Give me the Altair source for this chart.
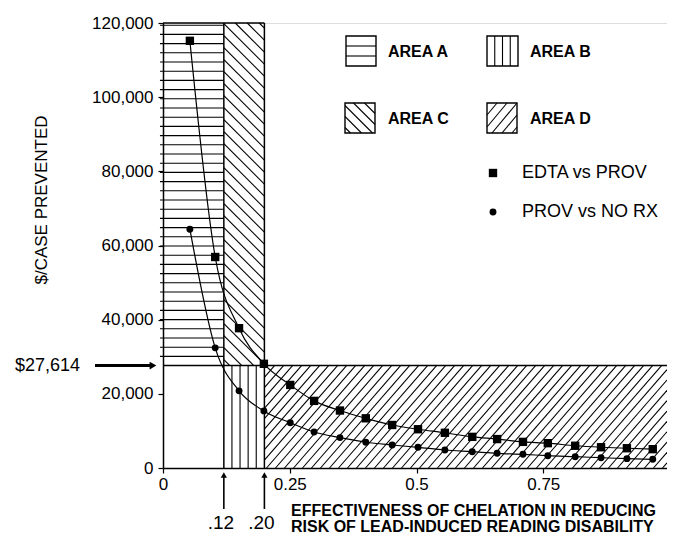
import altair as alt
import pandas as pd

# ---------------- values ----------------
x_vals = [0.053, 0.103, 0.150, 0.199, 0.251, 0.298, 0.349, 0.400, 0.452, 0.503,
          0.556, 0.610, 0.659, 0.710, 0.759, 0.813, 0.864, 0.915, 0.966]
edta_y = [115200, 56900, 37700, 28100, 22400, 18100, 15500, 13400, 11600, 10450,
          9500, 8400, 7800, 7050, 6700, 6000, 5600, 5330, 5080]
prov_y = [64400, 32400, 20800, 15400, 12200, 9700, 8200, 6950, 6200, 5580,
          4850, 4400, 3960, 3690, 3320, 3050, 2780, 2520, 2350]
series_names = ["EDTA vs PROV", "PROV vs NO RX"]
area_names = ["AREA A", "AREA B", "AREA C", "AREA D"]
threshold = 27614
x_cuts = [0.12, 0.20]
y_ticks = [0, 20000, 40000, 60000, 80000, 100000, 120000]
x_ticks = [0, 0.25, 0.5, 0.75]

# ---------------- layout / style ----------------
FONT = "Liberation Sans"
W, H = 504, 445
X_MAX = W / 507.0
Y_MAX = 120000
PX = W / X_MAX
PY = H / Y_MAX

xs = alt.Scale(domain=[0, X_MAX], nice=False, zero=False)
ys = alt.Scale(domain=[0, Y_MAX], nice=False, zero=False)


def hatch(x0, x1, y0, y1, kind, step, m=1.0):
    X0, X1, Y0, Y1 = x0 * PX, x1 * PX, y0 * PY, y1 * PY
    out = []
    if kind == "h":
        Y = Y0 + step
        while Y < Y1 - 1:
            out.append((X0, Y, X1, Y))
            Y += step
    elif kind == "v":
        X = X0 + step
        while X < X1 - 1:
            out.append((X, Y0, X, Y1))
            X += step
    elif kind == "/":
        b = Y0 - m * X1 + m * step * 0.5
        while b < Y1 - m * X0:
            xa = max(X0, (Y0 - b) / m)
            xb = min(X1, (Y1 - b) / m)
            if xb - xa > 0.3:
                out.append((xa, m * xa + b, xb, m * xb + b))
            b += m * step
    else:
        b = Y0 + m * X0 + m * step * 0.5
        while b < Y1 + m * X1:
            xa = max(X0, (b - Y1) / m)
            xb = min(X1, (b - Y0) / m)
            if xb - xa > 0.3:
                out.append((xa, b - m * xa, xb, b - m * xb))
            b += m * step
    return [(a / PX, c / PY, d / PX, e / PY) for (a, c, d, e) in out]


def px_x(p):
    return p / PX


def px_y(p):
    return (H - p) / PY


# main shaded areas
segs = []
segs += hatch(-0.006, x_cuts[0], threshold, Y_MAX, "h", 9.2)
segs += hatch(x_cuts[0], x_cuts[1], threshold, Y_MAX, "\\", 12, 1.0)
segs += hatch(x_cuts[0], x_cuts[1], 0, threshold, "v", 8.1)
segs += hatch(x_cuts[1], X_MAX, 0, threshold, "/", 9, 1.15)

# legend boxes (pixel offsets inside the plot)
boxes = {
    "AREA A": (183, 213, 13, 43, "h", 10, 1.0),
    "AREA B": (324, 355, 13, 43, "v", 7.75, 1.0),
    "AREA C": (182, 212, 80, 110, "\\", 11, 1.0),
    "AREA D": (324, 354, 80, 110, "/", 10, 1.2),
}
box_rows = []
for name in area_names:
    bx0, bx1, by0, by1, kind, step, m = boxes[name]
    x0, x1 = px_x(bx0), px_x(bx1)
    y0, y1 = px_y(by1), px_y(by0)
    segs += hatch(x0, x1, y0, y1, kind, step, m)
    box_rows.append({"x": x0, "x2": x1, "y": y0, "y2": y1, "name": name})

hatch_df = pd.DataFrame(segs, columns=["x", "y", "x2", "y2"])
box_df = pd.DataFrame(box_rows)

border_df = pd.DataFrame([
    {"x": 0, "y": Y_MAX, "x2": x_cuts[1], "y2": Y_MAX},
    {"x": x_cuts[0], "y": 0, "x2": x_cuts[0], "y2": Y_MAX},
    {"x": x_cuts[1], "y": 0, "x2": x_cuts[1], "y2": Y_MAX},
    {"x": 0, "y": threshold, "x2": X_MAX, "y2": threshold},
])

pts = pd.DataFrame({
    "x": x_vals + x_vals,
    "y": edta_y + prov_y,
    "series": [series_names[0]] * len(x_vals) + [series_names[1]] * len(x_vals),
})


def X(f="x"):
    return alt.X(f + ":Q", scale=xs, title=None)


def Y(f="y"):
    return alt.Y(f + ":Q", scale=ys, title=None)


X2 = alt.X2("x2:Q", title=None)
Y2 = alt.Y2("y2:Q", title=None)

hatch_layer = alt.Chart(hatch_df).mark_rule(color="black", strokeWidth=1.1).encode(
    x=X(), y=Y(), x2=X2, y2=Y2)

border_layer = alt.Chart(border_df).mark_rule(color="black", strokeWidth=1.5).encode(
    x=X(), y=Y(), x2=X2, y2=Y2)

box_layer = alt.Chart(box_df).mark_rect(fill=None, stroke="black", strokeWidth=1.4).encode(
    x=X(), y=Y(), x2=X2, y2=Y2)

line_layer = alt.Chart(pts).mark_line(color="black", strokeWidth=1.2, interpolate="monotone").encode(
    x=X(), y=Y(), detail="series:N")

point_layer = alt.Chart(pts).mark_point(filled=True, color="black", opacity=1).encode(
    x=alt.X("x:Q", scale=xs, title=None,
            axis=alt.Axis(values=x_ticks, format=".2~f", labelFontSize=17, labelFont=FONT,
                          labelPadding=3, tickSize=5, domainWidth=1.5, tickWidth=1.2,
                          domainColor="black", tickColor="black", labelColor="black",
                          labelOverlap=False, labelFlush=False, grid=False)),
    y=alt.Y("y:Q", scale=ys, title=None,
            axis=alt.Axis(values=y_ticks, format=",d", labelFontSize=17, labelFont=FONT,
                          labelPadding=5, tickSize=5, domainWidth=1.5, tickWidth=1.2,
                          domainColor="black", tickColor="black", labelColor="black",
                          labelOverlap=False, grid=False)),
    shape=alt.Shape("series:N", scale=alt.Scale(domain=series_names, range=["square", "circle"]), legend=None),
    size=alt.Size("series:N", scale=alt.Scale(domain=series_names, range=[70, 48]), legend=None),
)

# legend texts and markers
leg_text_df = pd.DataFrame({
    "x": [px_x(225), px_x(367), px_x(225), px_x(367)],
    "y": [px_y(29), px_y(29), px_y(96), px_y(96)],
    "t": area_names,
})
leg_text = alt.Chart(leg_text_df).mark_text(align="left", baseline="middle", font=FONT,
                                            fontSize=16, fontWeight="bold", color="black").encode(
    x=X(), y=Y(), text="t:N")

leg_ser_df = pd.DataFrame({
    "x": [px_x(330), px_x(330)],
    "y": [px_y(150), px_y(189)],
    "tx": [px_x(359), px_x(359)],
    "t": series_names,
})
leg_marks = alt.Chart(leg_ser_df).mark_point(filled=True, color="black", opacity=1).encode(
    x=X(), y=Y(),
    shape=alt.Shape("t:N", scale=alt.Scale(domain=series_names, range=["square", "circle"]), legend=None),
    size=alt.Size("t:N", scale=alt.Scale(domain=series_names, range=[165, 135]), legend=None),
)
leg_ser_text = alt.Chart(leg_ser_df).mark_text(align="left", baseline="middle", font=FONT,
                                               fontSize=18, color="black").encode(
    x=X("tx"), y=Y(), text="t:N")

one = pd.DataFrame({"v": [0]})

y_title = alt.Chart(one).mark_text(text="$/CASE PREVENTED", angle=270, font=FONT, fontSize=17,
                                   align="center", baseline="middle", color="black").encode(
    x=alt.value(-121), y=alt.value(177))

x_title1 = alt.Chart(one).mark_text(text="EFFECTIVENESS OF CHELATION IN REDUCING", align="left",
                                    baseline="alphabetic", font=FONT, fontSize=16,
                                    fontWeight="bold", color="black").encode(
    x=alt.value(128), y=alt.value(493))
x_title2 = alt.Chart(one).mark_text(text="RISK OF LEAD-INDUCED READING DISABILITY", align="left",
                                    baseline="alphabetic", font=FONT, fontSize=16,
                                    fontWeight="bold", color="black").encode(
    x=alt.value(128), y=alt.value(509))

cut_df = pd.DataFrame({"x": x_cuts, "t": [".12", ".20"]})
cut_arrows = alt.Chart(cut_df).mark_rule(color="black", strokeWidth=1.6).encode(
    x=X(), y=alt.value(486), y2=alt.value(454))
cut_heads = alt.Chart(cut_df).mark_point(shape="triangle-up", filled=True, color="black",
                                         opacity=1, size=38).encode(
    x=X(), y=alt.value(452))
cut_text = alt.Chart(cut_df).mark_text(align="center", baseline="alphabetic", font=FONT,
                                       fontSize=19, color="black", dx=-3).encode(
    x=X(), y=alt.value(506), text="t:N")

thr_df = pd.DataFrame({"y": [threshold], "t": ["$27,614"]})
thr_arrow = alt.Chart(thr_df).mark_rule(color="black", strokeWidth=3).encode(
    y=Y(), x=alt.value(-68), x2=alt.value(-12))
thr_head = alt.Chart(thr_df).mark_point(shape="triangle-right", filled=True, color="black",
                                        opacity=1, size=60).encode(
    y=Y(), x=alt.value(-10))
thr_text = alt.Chart(thr_df).mark_text(align="right", baseline="middle", font=FONT, fontSize=18,
                                       color="black").encode(
    y=Y(), x=alt.value(-83), text="t:N")

chart = alt.layer(
    hatch_layer, border_layer, box_layer, line_layer, point_layer,
    leg_text, leg_marks, leg_ser_text,
    y_title, x_title1, x_title2,
    cut_arrows, cut_heads, cut_text,
    thr_arrow, thr_head, thr_text,
).properties(
    width=W, height=H,
    autosize=alt.AutoSizeParams(type="none"),
    padding={"left": 155, "top": 15, "right": 0, "bottom": 64},
).configure_view(stroke=None).configure(background="white")

chart.save("out.html", embed_options={"renderer": "svg", "actions": False})
